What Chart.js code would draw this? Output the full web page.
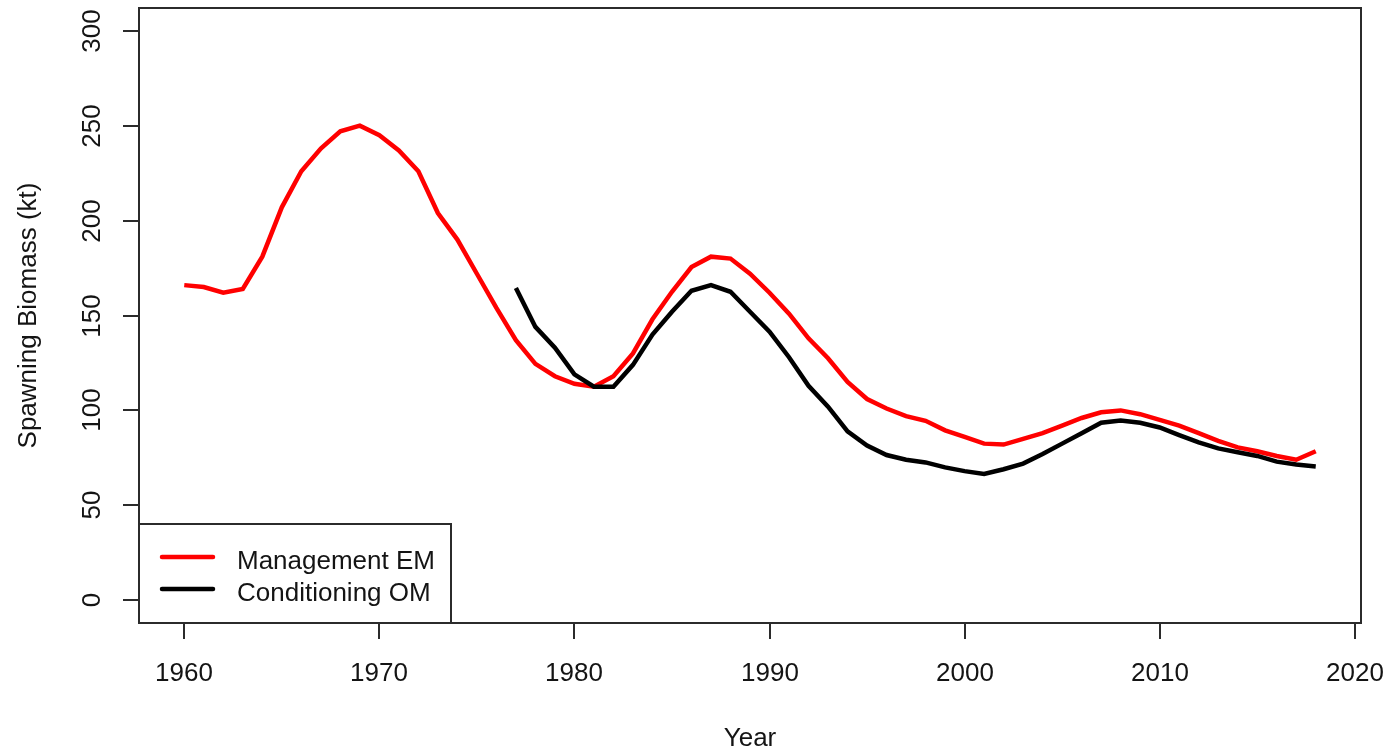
<!DOCTYPE html>
<html>
<head>
<meta charset="utf-8">
<title>Spawning Biomass</title>
<script src="https://cdn.jsdelivr.net/npm/chart.js@4.4.1/dist/chart.umd.min.js"></script>
<style>
  html, body { margin: 0; padding: 0; background: #ffffff; }
  #wrap { width: 1389px; height: 752px; position: relative; }
</style>
</head>
<body>
<div id="wrap"><canvas id="c" width="1389" height="752"></canvas></div>
<script>
// Management EM spawning biomass (kt), 1960-2018
const emYears = [1960,1961,1962,1963,1964,1965,1966,1967,1968,1969,
                 1970,1971,1972,1973,1974,1975,1976,1977,1978,1979,
                 1980,1981,1982,1983,1984,1985,1986,1987,1988,1989,
                 1990,1991,1992,1993,1994,1995,1996,1997,1998,1999,
                 2000,2001,2002,2003,2004,2005,2006,2007,2008,2009,
                 2010,2011,2012,2013,2014,2015,2016,2017,2018];
const emBiomass = [166,165,162,164,181,207,226,238,247,250,
                   245,237,226,204,190,172,154,137,124.5,118,
                   114,112.5,118,130,148,162.5,175.5,181,180,172,
                   162,151,138,127.5,115,106,101,97,94.5,89.5,
                   86,82.5,82,85,88,92,96,99,100,98,
                   95,92,88,84,80.5,78.5,76,74,78.5];

// Conditioning OM spawning biomass (kt), 1977-2018
const omYears = [1977,1978,1979,1980,1981,1982,1983,1984,1985,1986,
                 1987,1988,1989,1990,1991,1992,1993,1994,1995,1996,
                 1997,1998,1999,2000,2001,2002,2003,2004,2005,2006,
                 2007,2008,2009,2010,2011,2012,2013,2014,2015,2016,
                 2017,2018];
const omBiomass = [164.5,144,133,119,112.5,112.5,124,140,152,163,
                   166,162.5,152,141.5,128,113,102,89,81.5,76.5,
                   74,72.6,70,68,66.5,69,72,77,82.5,88,
                   93.5,94.7,93.5,91,87,83.2,80,78,76,73,
                   71.5,70.5];

const xTicks = [1960, 1970, 1980, 1990, 2000, 2010, 2020];
const yTicks = [0, 50, 100, 150, 200, 250, 300];
const xTitle = 'Year';
const yTitle = 'Spawning Biomass (kt)';
const seriesNames = ['Management EM', 'Conditioning OM'];

const FONT = '26px "Liberation Sans", Arial, sans-serif';
const INK = '#141414';

function toPoints(xs, ys) { return xs.map((x, i) => ({ x: x, y: ys[i] })); }

// Axes, frame, tick labels, titles and the boxed legend
const baseGraphics = {
  id: 'baseGraphics',
  afterDraw(chart) {
    const ctx = chart.ctx;
    const area = chart.chartArea;
    const xs = chart.scales.x, ys = chart.scales.y;
    ctx.save();
    ctx.strokeStyle = '#2b2b2b';
    ctx.lineWidth = 2;
    ctx.strokeRect(area.left, area.top, area.right - area.left, area.bottom - area.top);

    ctx.fillStyle = INK;
    ctx.font = FONT;
    ctx.lineWidth = 2;

    // x axis ticks and labels
    ctx.textAlign = 'center';
    ctx.textBaseline = 'alphabetic';
    xTicks.forEach(v => {
      const px = Math.round(xs.getPixelForValue(v));
      ctx.beginPath();
      ctx.moveTo(px, area.bottom);
      ctx.lineTo(px, area.bottom + 16);
      ctx.stroke();
      ctx.fillText(String(v), px, 681);
    });

    // y axis ticks and rotated labels
    yTicks.forEach(v => {
      const py = Math.round(ys.getPixelForValue(v));
      ctx.beginPath();
      ctx.moveTo(area.left - 16, py);
      ctx.lineTo(area.left, py);
      ctx.stroke();
      ctx.save();
      ctx.translate(100, py);
      ctx.rotate(-Math.PI / 2);
      ctx.textAlign = 'center';
      ctx.fillText(String(v), 0, 0);
      ctx.restore();
    });

    // axis titles
    ctx.textAlign = 'center';
    ctx.fillText(xTitle, (area.left + area.right) / 2, 746);
    ctx.save();
    ctx.translate(36, (area.top + area.bottom) / 2);
    ctx.rotate(-Math.PI / 2);
    ctx.fillText(yTitle, 0, 0);
    ctx.restore();

    // legend
    const lx0 = area.left, ly0 = 524, lx1 = 451, ly1 = area.bottom;
    ctx.fillStyle = '#ffffff';
    ctx.fillRect(lx0 + 1, ly0 + 1, lx1 - lx0 - 2, ly1 - ly0 - 2);
    ctx.strokeStyle = '#2b2b2b';
    ctx.lineWidth = 2;
    ctx.strokeRect(lx0, ly0, lx1 - lx0, ly1 - ly0);
    const rows = [
      { ds: chart.data.datasets[1], y: 557 },
      { ds: chart.data.datasets[0], y: 589 }
    ];
    ctx.textAlign = 'left';
    rows.forEach(r => {
      ctx.strokeStyle = r.ds.borderColor;
      ctx.lineWidth = 4.5;
      ctx.lineCap = 'round';
      ctx.beginPath();
      ctx.moveTo(162, r.y);
      ctx.lineTo(213, r.y);
      ctx.stroke();
      ctx.fillStyle = INK;
      ctx.fillText(r.ds.label, 237, r.y + 12);
    });
    ctx.restore();
  }
};

new Chart(document.getElementById('c'), {
  type: 'line',
  data: {
    datasets: [
      {
        label: seriesNames[1],
        data: toPoints(omYears, omBiomass),
        borderColor: '#000000',
        borderWidth: 4.5,
        pointRadius: 0,
        tension: 0,
        fill: false,
        order: 0
      },
      {
        label: seriesNames[0],
        data: toPoints(emYears, emBiomass),
        borderColor: '#ff0000',
        borderWidth: 4.5,
        pointRadius: 0,
        tension: 0,
        fill: false,
        order: 1
      }
    ]
  },
  options: {
    responsive: false,
    animation: false,
    events: [],
    layout: { padding: { left: 139, right: 28, top: 8, bottom: 129 } },
    plugins: { legend: { display: false }, tooltip: { enabled: false } },
    scales: {
      x: { type: 'linear', min: 1957.68, max: 2020.32, display: false },
      y: { type: 'linear', min: -12, max: 312, display: false }
    }
  },
  plugins: [baseGraphics]
});
</script>
</body>
</html>
